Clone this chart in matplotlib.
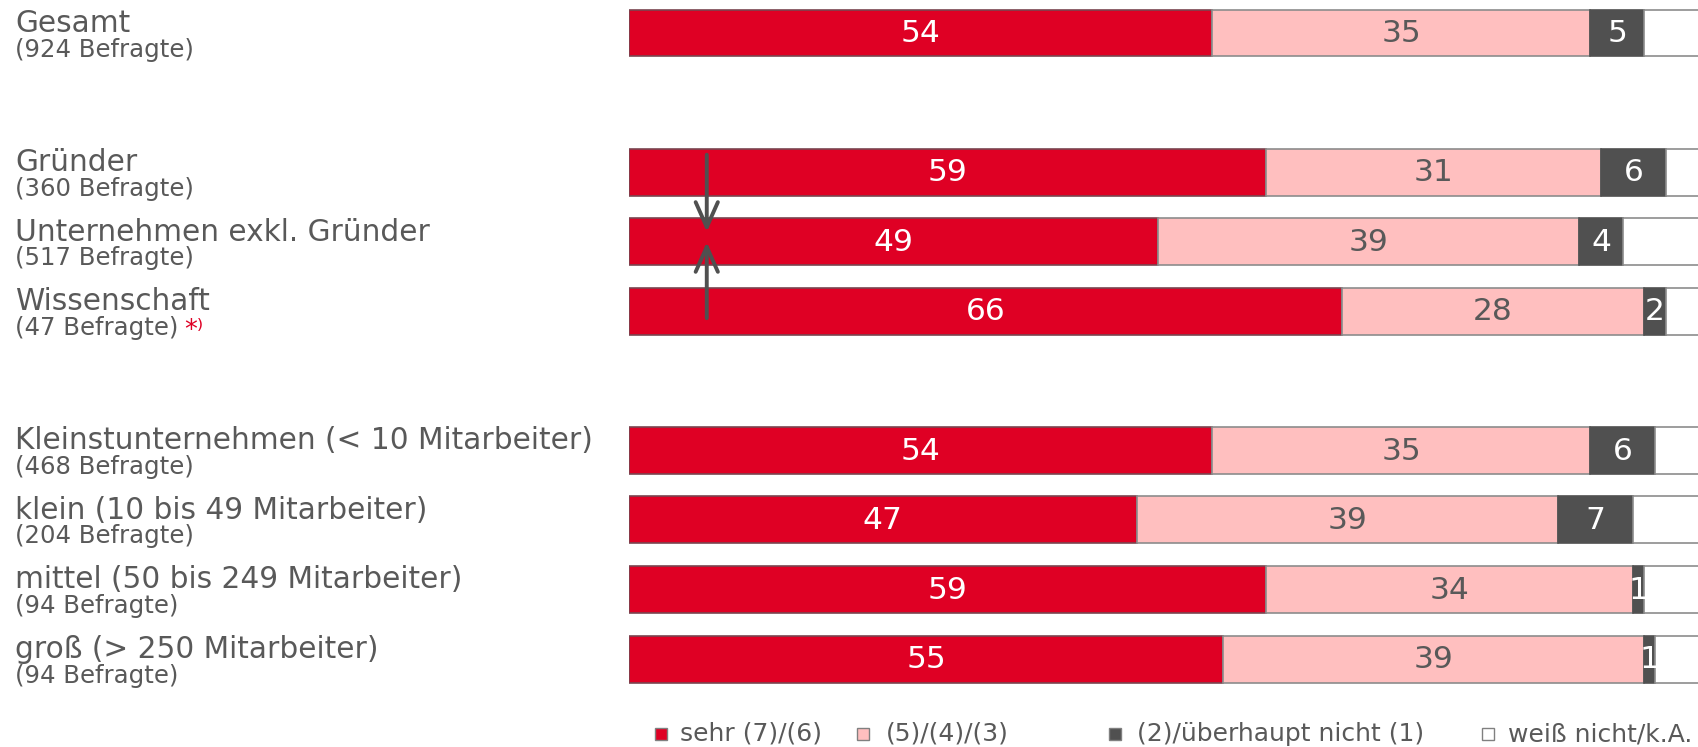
import matplotlib.pyplot as plt
from matplotlib.patches import Rectangle
from matplotlib.transforms import blended_transform_factory

# Groups and number of respondents
groups = ["Gesamt", "Gründer", "Unternehmen exkl. Gründer", "Wissenschaft",
          "Kleinstunternehmen (< 10 Mitarbeiter)", "klein (10 bis 49 Mitarbeiter)",
          "mittel (50 bis 249 Mitarbeiter)", "groß (> 250 Mitarbeiter)"]
respondents = [924, 360, 517, 47, 468, 204, 94, 94]
rows = [0, 2, 3, 4, 6, 7, 8, 9]  # row slots, gaps separate the blocks

# Answer shares in percent
sehr = [54, 59, 49, 66, 54, 47, 59, 55]
mittel = [35, 31, 39, 28, 35, 39, 34, 39]
nicht = [5, 6, 4, 2, 6, 7, 1, 1]
weiss = [6, 4, 8, 4, 5, 7, 6, 5]

legend_labels = ["sehr (7)/(6)", "(5)/(4)/(3)", "(2)/überhaupt nicht (1)", "weiß nicht/k.A."]
colors = ["#df0024", "#ffbfbf", "#505050", "#ffffff"]
edges = ["#7a4550", "#8c8c8c", "#505050", "#8c8c8c"]
value_colors = ["white", "#595959", "white", None]
grey = "#595959"

W, H = 1698, 747
fig = plt.figure(figsize=(W / 100, H / 100), dpi=100)
pitch = 69.56
top = 33.0
ax = fig.add_axes([629 / W, 0, 1080 / W, 1])
ax.set_xlim(0, 100)
ax.set_ylim((H - top) / pitch, -top / pitch)
ax.axis("off")

series = [sehr, mittel, nicht, weiss]
for i, r in enumerate(rows):
    left = 0
    for k, vals in enumerate(series):
        v = vals[i]
        ax.barh(r, v, left=left, height=0.675, color=colors[k],
                edgecolor=edges[k], linewidth=1.2)
        if value_colors[k] is not None:
            ax.text(left + v / 2, r + 0.01, str(v), ha="center", va="center",
                    fontsize=22.5, color=value_colors[k])
        left += v

# Row labels on the left
tr = blended_transform_factory(fig.transFigure, ax.transData)
for i, r in enumerate(rows):
    ax.text(15 / W, r - 1 / pitch, groups[i], transform=tr, fontsize=21.3,
            color=grey, va="baseline", ha="left")
    sub = ax.text(15 / W, r + 23.5 / pitch, f"({respondents[i]} Befragte)",
                  transform=tr, fontsize=17.6, color=grey, va="baseline", ha="left")
    if groups[i] == "Wissenschaft":
        # footnote marker for the small sample
        ax.annotate("*\u207e", xy=(1, 0), xycoords=sub, xytext=(4, 1.5),
                    textcoords="offset points", fontsize=18.5, color="#df0024",
                    va="baseline")

# Arrows between Gründer / Wissenschaft and the companies row
arrow = dict(arrowstyle="->,head_length=0.9,head_width=0.4", color="#505050",
             lw=2.8, mutation_scale=20, shrinkA=0, shrinkB=0)
ax.annotate("", xy=(7.2, 2.86), xytext=(7.2, 1.75), arrowprops=arrow)
ax.annotate("", xy=(7.2, 3.005), xytext=(7.2, 4.1), arrowprops=arrow)

# Legend along the bottom
box_x = [661, 863, 1115, 1488]
text_x = [680, 886, 1137, 1508]
ly = H - 734
for k in range(4):
    fig.patches.append(Rectangle(((box_x[k] - 6) / W, (ly - 6) / H), 12 / W, 12 / H,
                                 transform=fig.transFigure, facecolor=colors[k],
                                 edgecolor="#808080", linewidth=1))
    fig.text(text_x[k] / W, ly / H, legend_labels[k], fontsize=18, color=grey,
             va="center", ha="left")

fig.savefig("out.png", dpi=100)
